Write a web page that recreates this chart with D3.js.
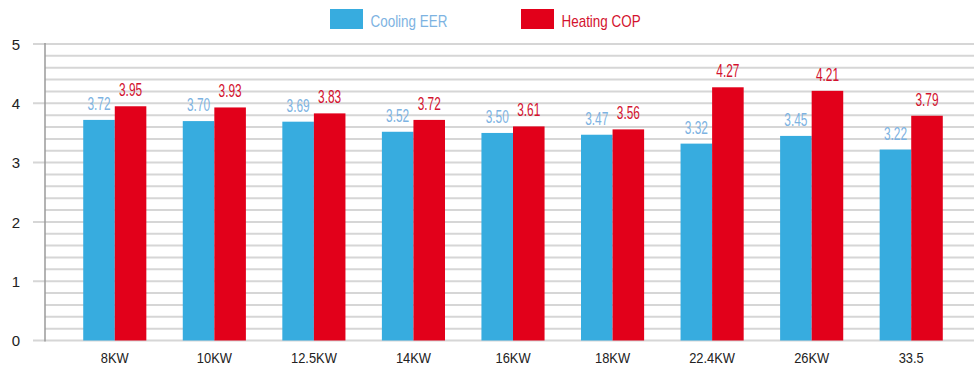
<!DOCTYPE html>
<html>
<head>
<meta charset="utf-8">
<script src="https://cdn.jsdelivr.net/npm/d3@7"></script>
<style>
  html, body { margin: 0; padding: 0; background: #fff; }
  svg { display: block; }
  text { font-family: "Liberation Sans", Arial, sans-serif; }
</style>
</head>
<body>
<svg id="chart" width="974" height="367"></svg>
<script>
// Unit capacities and their efficiency ratings
const categories = ["8KW", "10KW", "12.5KW", "14KW", "16KW", "18KW", "22.4KW", "26KW", "33.5"];
const seriesNames = ["Cooling EER", "Heating COP"];
const coolingEER = [3.72, 3.70, 3.69, 3.52, 3.50, 3.47, 3.32, 3.45, 3.22];
const heatingCOP = [3.95, 3.93, 3.83, 3.72, 3.61, 3.56, 4.27, 4.21, 3.79];
const yTicks = [0, 1, 2, 3, 4, 5];

const barColors = ["#37acdf", "#e2001a"];
const labelColors = ["#7db3e2", "#d3122e"];

const svg = d3.select("#chart");

const plotLeft = 45, plotRight = 974, plotTop = 44, plotBottom = 340.5;

const y = d3.scaleLinear().domain([0, 5]).range([plotBottom, plotTop]);

const x0 = d3.scaleBand()
  .domain(categories)
  .range([65, 961])
  .paddingInner(0.366)
  .paddingOuter(0.183);

const x1 = d3.scaleBand()
  .domain(seriesNames)
  .range([0, x0.bandwidth()])
  .padding(0);

// Minor gridlines every 0.2; whole-number lines reach out past the axis
const minorTicks = d3.range(0, 5.0001, 0.2).map(v => +v.toFixed(1));
svg.append("g").selectAll("line")
  .data(minorTicks)
  .join("line")
  .attr("x1", d => Number.isInteger(d) ? 33 : plotLeft)
  .attr("x2", plotRight)
  .attr("y1", d => y(d))
  .attr("y2", d => y(d))
  .attr("stroke", "#d6d6d6")
  .attr("stroke-width", 2);

// Vertical axis line
svg.append("line")
  .attr("x1", plotLeft).attr("x2", plotLeft)
  .attr("y1", y(5) - 1).attr("y2", y(0) + 1)
  .attr("stroke", "#9a9a9a")
  .attr("stroke-width", 1.5);

// Y tick labels
const yAxis = d3.axisLeft(y).tickValues(yTicks).tickFormat(d3.format("d")).tickSize(0).tickPadding(0);
const yg = svg.append("g").attr("transform", "translate(20,0)").call(yAxis);
yg.select(".domain").remove();
yg.selectAll("text")
  .attr("font-family", "'Liberation Sans', Arial, sans-serif")
  .attr("font-size", 15)
  .attr("fill", "#222")
  .attr("dy", "0.35em");

// X category labels (horizontally condensed)
const xAxis = d3.axisBottom(x0).tickSize(0).tickPadding(0);
const xg = svg.append("g").attr("transform", `translate(0,${plotBottom})`).call(xAxis);
xg.select(".domain").remove();
xg.selectAll("text")
  .attr("font-family", "'Liberation Sans', Arial, sans-serif")
  .attr("font-size", 15)
  .attr("fill", "#222")
  .attr("dy", null)
  .attr("y", null)
  .attr("transform", "translate(0,22) scale(0.86,1)");

// Bars
const rows = categories.map((c, i) => ({
  cat: c,
  vals: [
    { key: seriesNames[0], v: coolingEER[i], s: 0 },
    { key: seriesNames[1], v: heatingCOP[i], s: 1 }
  ]
}));

const groups = svg.append("g").selectAll("g")
  .data(rows)
  .join("g")
  .attr("transform", d => `translate(${x0(d.cat)},0)`);

groups.selectAll("rect")
  .data(d => d.vals)
  .join("rect")
  .attr("x", d => x1(d.key))
  .attr("y", d => y(d.v))
  .attr("width", x1.bandwidth())
  .attr("height", d => y(0) - y(d.v))
  .attr("fill", d => barColors[d.s]);

// Value labels (tall, condensed)
groups.selectAll("text.val")
  .data(d => d.vals)
  .join("text")
  .attr("class", "val")
  .attr("transform", d => `translate(${x1(d.key) + x1.bandwidth() / 2},${y(d.v) - 10}) scale(0.66,1)`)
  .attr("text-anchor", "middle")
  .attr("font-size", 18)
  .attr("fill", d => labelColors[d.s])
  .text(d => d.v.toFixed(2));

// Legend
const legendX = [330, 521];
const legend = svg.append("g").selectAll("g")
  .data(seriesNames)
  .join("g")
  .attr("transform", (d, i) => `translate(${legendX[i]},9)`);
legend.append("rect")
  .attr("width", 33).attr("height", 20)
  .attr("fill", (d, i) => barColors[i]);
legend.append("text")
  .attr("transform", "translate(40.5,18) scale(0.84,1)")
  .attr("font-size", 16)
  .attr("fill", (d, i) => labelColors[i])
  .text(d => d);
</script>
</body>
</html>
